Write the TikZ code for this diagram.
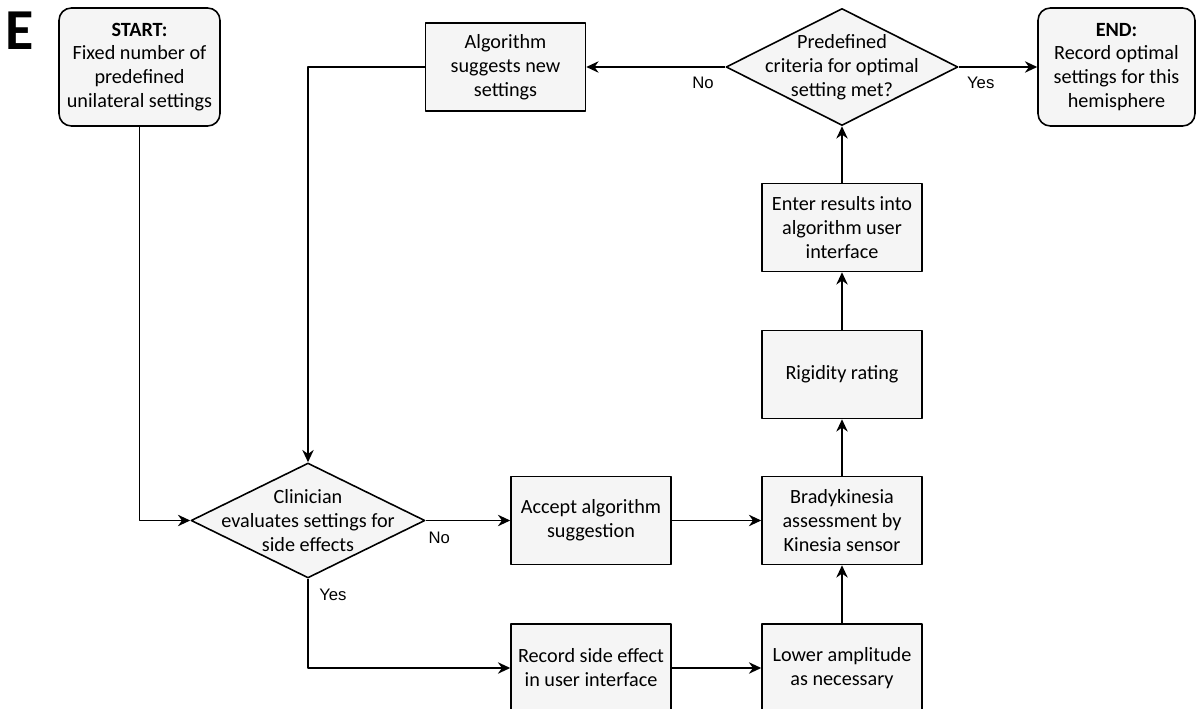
\documentclass[tikz,border=0pt]{standalone}
\usepackage{fontspec}
\setmainfont{Carlito}
\newfontfamily\yesnofont{Liberation Sans}
\usetikzlibrary{shapes.geometric,arrows.meta}
\definecolor{boxgray}{RGB}{245,245,245}
\begin{document}
\begin{tikzpicture}[x=0.02cm, y=-0.02cm, font=\fontsize{11.5}{13.6}\selectfont, line join=round, line width=0.9pt, >={Stealth[length=7pt,width=6.5pt]},
		stepbox/.style={draw, fill=boxgray, align=center, minimum width=3.2cm, minimum height=1.76cm, inner sep=1pt},
		endbox/.style={stepbox, rounded corners=7pt, minimum height=2.36cm},
		decision/.style={diamond, draw, fill=boxgray, align=center, inner sep=-25pt, minimum width=4.64cm, minimum height=2.34cm},
		yesno/.style={font=\yesnofont\fontsize{9.5}{10}\selectfont, inner sep=1pt}]
		\useasboundingbox (0,0) rectangle (1197,709);
		\node[font=\bfseries\fontsize{33}{33}\selectfont, inner sep=0pt] (panel) at (20,31) {E};
		% top row
		\node[endbox, minimum width=3.22cm] (start) at (139.5,67) {\textbf{START:}\\Fixed number of\\predefined\\unilateral settings};
		\node[stepbox] (algo) at (505.5,67) {Algorithm\\suggests new\\settings};
		\node[decision] (crit) at (842,67) {Predefined\\criteria for optimal\\setting met?};
		\node[endbox, minimum width=3.14cm] (finish) at (1116.5,67) {\textbf{END:}\\Record optimal\\settings for this\\hemisphere};
		% right column
		\node[stepbox] (enter) at (842,227.5) {Enter results into\\algorithm user\\interface};
		\node[stepbox] (rigid) at (842,374.5) {Rigidity rating};
		\node[stepbox] (brady) at (842,520.5) {Bradykinesia\\assessment by\\Kinesia sensor};
		\node[stepbox] (lower) at (842,668) {Lower amplitude\\as necessary};
		% left part
		\node[decision, minimum height=2.3cm, minimum width=4.68cm] (clin) at (308,520.5) {Clinician\\evaluates settings for\\side effects};
		\node[stepbox] (accept) at (591,520.5) {Accept algorithm\\suggestion};
		\node[stepbox] (record) at (591,668) {Record side effect\\in user interface};

		\draw[->] (start.south) |- (clin.west);
		\draw[->] (algo.west) -| (clin.north);
		\draw[->] (crit.west) -- (algo.east) node[yesno, pos=0.16, below=4pt] (critno) {No};
		\draw[->] (crit.east) -- (finish.west) node[yesno, pos=0.28, below=4pt] (crityes) {Yes};
		\draw[->] (clin.east) -- (accept.west) node[yesno, pos=0.16, below=5pt] (clinno) {No};
		\draw[->] (clin.south) |- (record.west) node[yesno, pos=0.09, right=5pt] (clinyes) {Yes};
		\draw[->] (accept) -- (brady);
		\draw[->] (record) -- (lower);
		\draw[->] (lower) -- (brady);
		\draw[->] (brady) -- (rigid);
		\draw[->] (rigid) -- (enter);
		\draw[->] (enter) -- (crit);
	\end{tikzpicture}
\end{document}
